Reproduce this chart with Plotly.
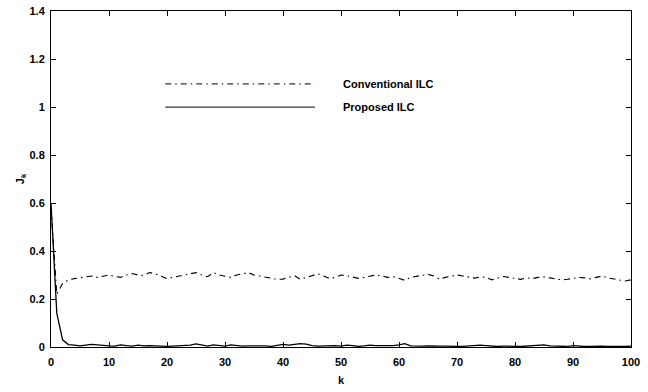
import plotly.graph_objects as go

k = list(range(101))

conventional_ilc = [
    0.58, 0.22, 0.265, 0.28, 0.285, 0.29, 0.292, 0.296, 0.29, 0.295,
    0.30, 0.294, 0.29, 0.30, 0.306, 0.30, 0.298, 0.31, 0.305, 0.295,
    0.285, 0.29, 0.295, 0.30, 0.305, 0.31, 0.30, 0.293, 0.31, 0.30,
    0.295, 0.29, 0.30, 0.305, 0.31, 0.30, 0.295, 0.29, 0.285, 0.282,
    0.283, 0.29, 0.297, 0.282, 0.29, 0.30, 0.305, 0.296, 0.285, 0.29,
    0.30, 0.297, 0.292, 0.286, 0.29, 0.296, 0.30, 0.297, 0.29, 0.293,
    0.285, 0.278, 0.29, 0.295, 0.30, 0.303, 0.296, 0.283, 0.29, 0.295,
    0.30, 0.296, 0.29, 0.287, 0.292, 0.29, 0.28, 0.288, 0.294, 0.29,
    0.285, 0.282, 0.288, 0.285, 0.29, 0.292, 0.288, 0.283, 0.28, 0.282,
    0.285, 0.29, 0.288, 0.284, 0.29, 0.296, 0.288, 0.283, 0.28, 0.275,
    0.28,
]

proposed_ilc = [
    0.60, 0.14, 0.03, 0.01, 0.008, 0.005, 0.008, 0.011, 0.009, 0.006,
    0.005, 0.004, 0.009, 0.006, 0.004, 0.008, 0.005, 0.006, 0.004, 0.005,
    0.003, 0.004, 0.005, 0.006, 0.008, 0.013, 0.007, 0.004, 0.009, 0.005,
    0.004, 0.009, 0.006, 0.004, 0.005, 0.006, 0.004, 0.005, 0.003, 0.008,
    0.011, 0.008, 0.01, 0.014, 0.012, 0.006, 0.004, 0.005, 0.008, 0.006,
    0.004, 0.008, 0.006, 0.003, 0.005, 0.008, 0.006, 0.005, 0.004, 0.006,
    0.009, 0.014, 0.005, 0.003, 0.004, 0.005, 0.003, 0.004, 0.004, 0.005,
    0.003, 0.003, 0.005, 0.007, 0.008, 0.006, 0.003, 0.002, 0.004, 0.002,
    0.003, 0.002, 0.004, 0.005, 0.007, 0.009, 0.005, 0.003, 0.004, 0.002,
    0.006, 0.003, 0.002, 0.003, 0.005, 0.004, 0.003, 0.002, 0.003, 0.002,
    0.004,
]

x_ticks = [0, 10, 20, 30, 40, 50, 60, 70, 80, 90, 100]
y_ticks = [0, 0.2, 0.4, 0.6, 0.8, 1.0, 1.2, 1.4]
y_tick_text = ["0", "0.2", "0.4", "0.6", "0.8", "1", "1.2", "1.4"]

FONT = "Liberation Sans, Arial, sans-serif"
DASHDOT = "6px,4px,1.5px,4px"

fig = go.Figure()
fig.add_trace(go.Scatter(
    x=k, y=conventional_ilc, mode="lines", name="Conventional ILC",
    line=dict(color="black", width=1.1, dash=DASHDOT),
    showlegend=False,
))
fig.add_trace(go.Scatter(
    x=k, y=proposed_ilc, mode="lines", name="Proposed ILC",
    line=dict(color="black", width=1.3),
    showlegend=False,
))

# legend drawn inside plot
legend_items = [("Conventional ILC", DASHDOT, 0.783),
                ("Proposed ILC", "solid", 0.714)]
for label, dash, yp in legend_items:
    fig.add_shape(type="line", xref="paper", yref="paper",
                  x0=0.197, x1=0.455, y0=yp, y1=yp,
                  line=dict(color="black", width=1, dash=dash))
    fig.add_annotation(xref="paper", yref="paper", x=0.50, y=yp,
                       text="<b>" + label + "</b>", showarrow=False,
                       xanchor="left", yanchor="middle",
                       font=dict(family=FONT, size=11, color="black"))

axis_common = dict(
    showgrid=False, zeroline=False, showline=True, linecolor="black",
    linewidth=1, mirror="ticks", ticks="inside", ticklen=5,
    tickcolor="black", automargin=False,
    tickfont=dict(family=FONT, size=11, color="black", weight="bold"),
)

fig.update_layout(
    width=648, height=392,
    margin=dict(l=51, r=17, t=11, b=45),
    paper_bgcolor="white", plot_bgcolor="white",
    font=dict(family=FONT, color="black"),
    xaxis=dict(range=[0, 100], tickvals=x_ticks, ticklabelstandoff=5,
               title=dict(text="<b>k</b>", font=dict(family=FONT, size=11), standoff=9),
               **axis_common),
    yaxis=dict(range=[0, 1.4], tickvals=y_ticks, ticktext=y_tick_text,
               ticklabelstandoff=3,
               title=dict(text="<b>J<sub>k</sub></b>", font=dict(family=FONT, size=11), standoff=2),
               **axis_common),
)

fig.write_html("out.html", config={"displayModeBar": False},
               post_script="document.body.style.margin='0';document.body.style.padding='0';")
